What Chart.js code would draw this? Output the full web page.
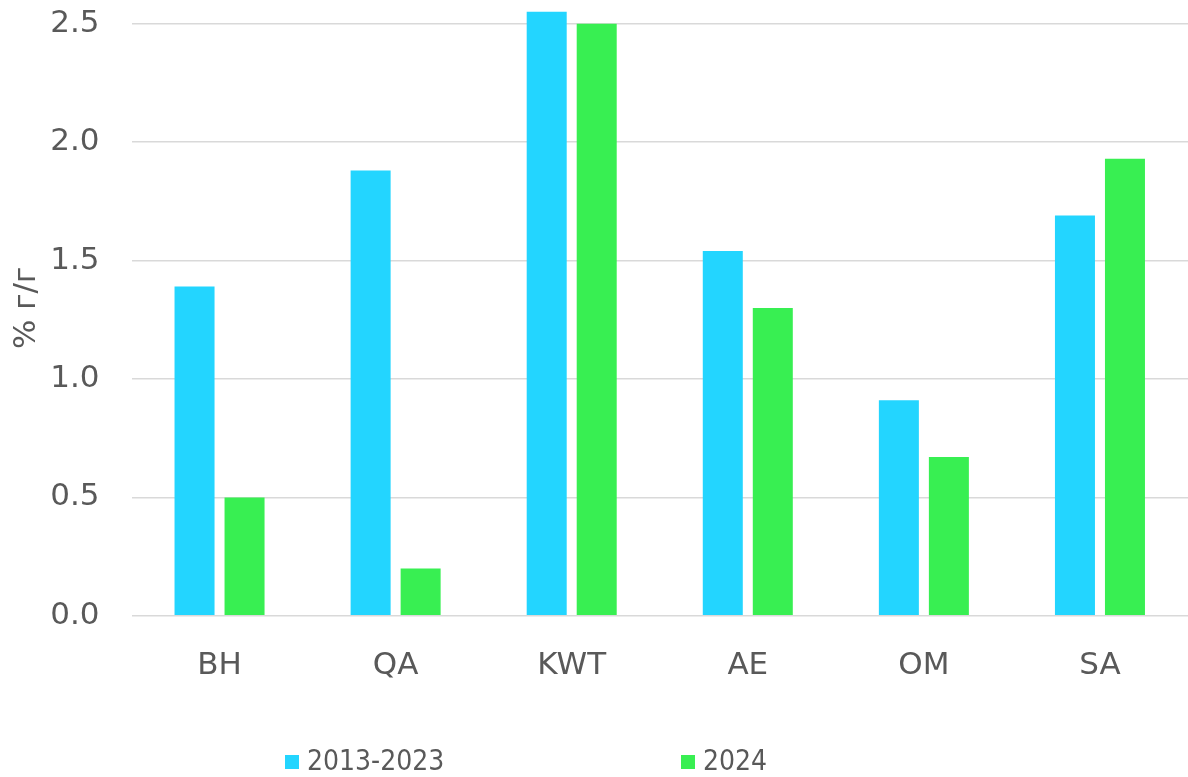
<!DOCTYPE html>
<html>
<head>
<meta charset="utf-8">
<script src="https://cdn.jsdelivr.net/npm/chart.js@4"></script>
<style>
  html, body { margin: 0; padding: 0; background: #fff; }
  #wrap { position: relative; width: 1188px; height: 777px; }
  #legend { position: absolute; left: 0; top: 744px; width: 1188px; height: 33px;
            font: 28px 'DejaVu Sans Condensed', 'DejaVu Sans', sans-serif; color: #595959; }
  .item { position: absolute; top: 0; line-height: 33px; white-space: nowrap; }
  .box { display: inline-block; width: 14px; height: 14px; margin-right: 8px; vertical-align: 1px; }
</style>
</head>
<body>
<div id="wrap">
  <canvas id="chart" width="1188" height="777"></canvas>
  <div id="legend"></div>
</div>
<script>
/* ========= DATA ========= */
const categories = ['BH', 'QA', 'KWT', 'AE', 'OM', 'SA'];
const seriesNames = ['2013-2023', '2024'];
const period = [1.39, 1.88, 2.55, 1.54, 0.91, 1.69];
const year2024 = [0.50, 0.20, 2.50, 1.30, 0.67, 1.93];
const yTicks = [0, 0.5, 1.0, 1.5, 2.0, 2.5];
const colors = ['#23D5FF', '#38EF52'];
const axisTitle = '% г/г';

const grey = '#595959';
const tickFont = { family: "'DejaVu Sans', Verdana, sans-serif", size: 31 };

/* ========= CHART ========= */
const chart = new Chart(document.getElementById('chart').getContext('2d'), {
  type: 'bar',
  data: {
    labels: categories,
    datasets: [
      { label: seriesNames[0], data: period, backgroundColor: colors[0] },
      { label: seriesNames[1], data: year2024, backgroundColor: colors[1] }
    ]
  },
  options: {
    responsive: false,
    animation: false,
    layout: { padding: { left: 0, right: 0, top: 0, bottom: 68 } },
    plugins: { legend: { display: false }, tooltip: { enabled: false } },
    datasets: { bar: { categoryPercentage: 0.568, barPercentage: 0.8 } },
    scales: {
      x: {
        grid: { display: false },
        border: { display: false },
        ticks: { color: grey, font: tickFont, padding: 24 }
      },
      y: {
        min: 0,
        max: 2.6,
        afterBuildTicks: axis => { axis.ticks = yTicks.map(v => ({ value: v })); },
        // tick padding would otherwise push the plot down from the top edge
        afterFit: axis => { axis.paddingTop = 0; axis.paddingBottom = 0; },
        grid: { color: '#D9D9D9', lineWidth: 1.5, drawTicks: false },
        border: { display: false },
        ticks: { color: grey, font: tickFont, padding: 32,
                 callback: v => Number(v).toFixed(1) },
        title: { display: true, text: axisTitle, color: grey, font: tickFont, padding: { top: 8, bottom: -27 } }
      }
    }
  }
});

/* ========= LEGEND ========= */
const legendPos = [285, 681];
const legend = document.getElementById('legend');
seriesNames.forEach((name, i) => {
  const d = document.createElement('div');
  d.className = 'item';
  d.style.left = legendPos[i] + 'px';
  d.innerHTML = `<span class="box" style="background:${colors[i]}"></span>${name}`;
  legend.appendChild(d);
});
</script>
</body>
</html>
